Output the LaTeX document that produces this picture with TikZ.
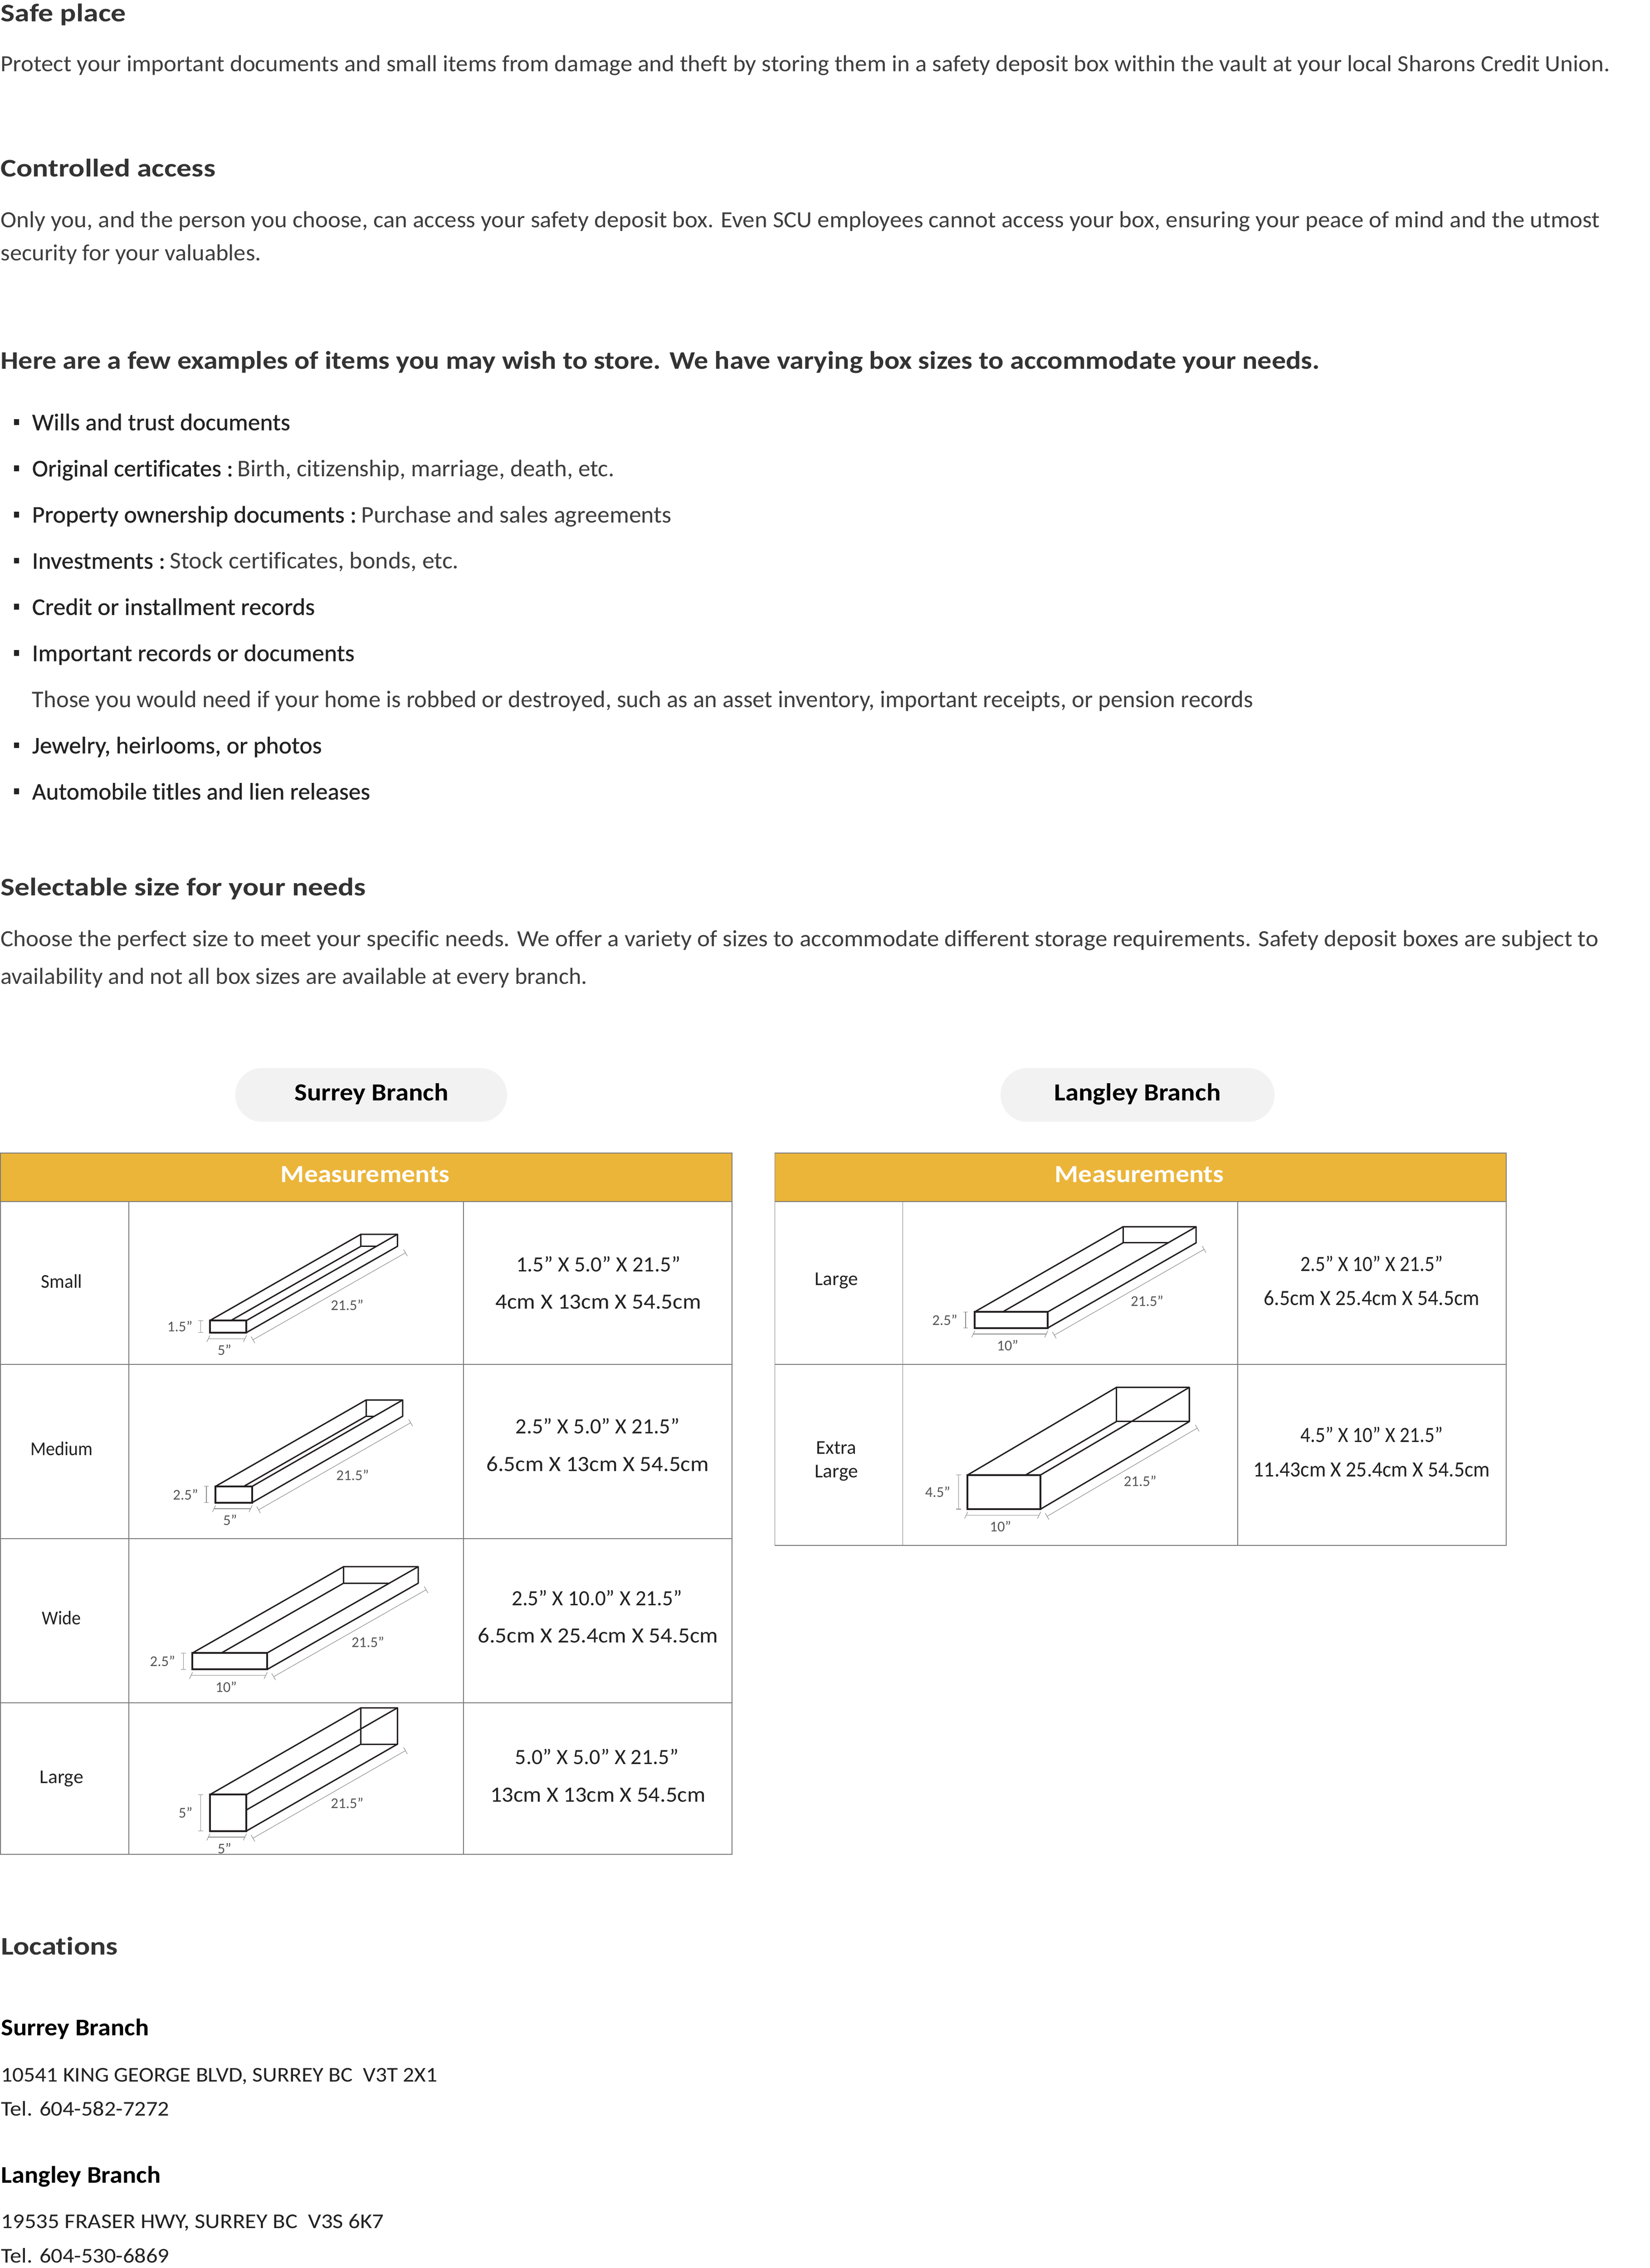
\documentclass[tikz,border=0pt]{standalone}
\usepackage{fontspec}
\usepackage{graphicx}
\setmainfont{Carlito}[Ligatures=NoCommon]
\newfontfamily\medf[FakeBold=0.6,Ligatures=NoCommon]{Carlito}
\usetikzlibrary{calc}
\definecolor{headc}{HTML}{333333}
\definecolor{bodyc}{HTML}{3E3E3E}
\definecolor{medc}{HTML}{222222}
\definecolor{hdrc}{HTML}{EBB53A}
\definecolor{tlinec}{HTML}{7A7A7A}
\definecolor{pillc}{HTML}{F2F2F2}
\definecolor{boxc}{HTML}{231F20}
\definecolor{dimc}{HTML}{8A8A8A}
\definecolor{dimtc}{HTML}{555555}
\newcommand\fw[2]{\resizebox{#1pt}{\height}{#2}}
\newcommand\hd{\fontsize{17.5}{21}\selectfont\bfseries}
\newcommand\bd{\fontsize{16}{19}\selectfont}
\newcommand\bl{\fontsize{16.5}{19}\selectfont}
\newcommand\md{\medf\fontsize{16.5}{19}\selectfont}
\tikzset{
  tx/.style={anchor=base west, inner sep=0pt, outer sep=0pt},
  tc/.style={anchor=base, inner sep=0pt, outer sep=0pt},
  tline/.style={draw=tlinec, line width=0.6pt},
  boxline/.style={draw=boxc, line width=0.95pt, line cap=round, line join=round},
  frontline/.style={draw=boxc, line width=1.25pt, line join=miter},
  dimline/.style={draw=dimc, line width=0.35pt},
  dimlab/.style={inner sep=0pt, text=dimtc, font=\fontsize{10.3}{12}\selectfont},
  cellc/.style={anchor=base, inner sep=0pt, text=medc}
}
% open tray: x0 y0 w h dx dy fullbottom
\newcommand\tray[7]{%
  \pgfmathsetmacro\trQ{-(#5)*(#4)/(#6)}%
  \pgfmathsetmacro\trQy{#2+#4+(#6)*(#3)/(#5)}%
  \draw[boxline] (#1,#2) -- ++(#5,#6) -- ++(#3,0) -- ++(0,#4);
  \draw[boxline] (#1+#3,#2) -- ++(#5,#6);
  \draw[boxline] (#1+#3,#2+#4) -- ++(#5,#6);
  \draw[boxline] (#1+#5,#2+#6) -- ++(0,#4);
  \ifdim\trQ pt<#3pt
    \draw[boxline] (#1+\trQ,#2) -- (#1+#5,#2+#4+#6);
  \else
    \draw[boxline] (#1+#3,\trQy) -- (#1+#5,#2+#4+#6);
  \fi
  \ifnum#7=1
    \draw[boxline] (#1+#5,#2+#4+#6) -- ++(#3,0);
  \else
    \draw[boxline] (#1+#5,#2+#4+#6) -- (#1+#3+#5-\trQ,#2+#4+#6);
  \fi
  \draw[frontline] (#1,#2) rectangle ++(#3,#4);
}
% dimensions: x0 y0 w h dx dy hlabel wlabel
\newcommand\dims[8]{%
  \draw[dimline] (#1-6.3,#2) -- (#1-6.3,#2+#4);
  \draw[dimline] (#1-8,#2) -- (#1-4.6,#2);
  \draw[dimline] (#1-8,#2+#4) -- (#1-4.6,#2+#4);
  \node[dimlab, anchor=east] at (#1-11.8,#2+#4/2) {#7};
  \draw[dimline] (#1-1,#2+#4+4.2) -- (#1+#3-1,#2+#4+4.2);
  \draw[dimline] (#1-2.1,#2+#4+6.5) -- (#1+0.1,#2+#4+1.9);
  \draw[dimline] (#1+#3-2.1,#2+#4+6.5) -- (#1+#3+0.1,#2+#4+1.9);
  \node[dimlab] at (#1+#3/2-2.5,#2+#4+12) {#8};
  \coordinate (dA) at (#1+#3+4.5,#2+#4+5);
  \coordinate (dB) at (#1+#3+#5+5.5,#2+#4+#6+4.5);
  \draw[dimline] (dA) -- (dB);
  \draw[dimline] ($(dA)!2.6pt!90:(dB)$) -- ($(dA)!2.6pt!-90:(dB)$);
  \draw[dimline] ($(dB)!2.6pt!90:(dA)$) -- ($(dB)!2.6pt!-90:(dA)$);
  \node[dimlab] at ($(dA)!0.5!(dB)+(12.4,6)$) {21.5”};
}
\begin{document}
\begin{tikzpicture}[x=1pt,y=-1pt]
\useasboundingbox (0,0) rectangle (1140,1567.2);
\fill[white] (0,0) rectangle (1140,1567.2);

% ---------- top text ----------
\node[tx,text=headc] (h1) at (0.5,15) {\hd\fw{86.6}{Safe place}};
\node[tx,text=bodyc] (p1) at (0.5,49.3) {\bd\fw{1112.3}{Protect your important documents and small items from damage and theft by storing them in a safety deposit box within the vault at your local Sharons Credit Union.}};
\node[tx,text=headc] (h2) at (0.5,122) {\hd\fw{148.5}{Controlled access}};
\node[tx,text=bodyc] (p2) at (0.5,157.2) {\bd\fw{1105.2}{Only you, and the person you choose, can access your safety deposit box. Even SCU employees cannot access your box, ensuring your peace of mind and the utmost}};
\node[tx,text=bodyc] (p3) at (0.5,180.1) {\bd\fw{180}{security for your valuables.}};
\node[tx,text=headc] (h3) at (0.5,254.9) {\hd\fw{911.7}{Here are a few examples of items you may wish to store. We have varying box sizes to accommodate your needs.}};

% ---------- bullets ----------
\foreach \k in {0,1,2,3,4,5,7,8}
  \fill[medc] (9.8,297.3+31.9*\k-7.6) rectangle ++(3.5,4);
\node[tx,text=medc] (b1) at (22.2,297.3) {\md\fw{178.4}{Wills and trust documents}};
\node[tx,text=bodyc] (b2) at (22.2,329.2) {\fw{402.3}{{\md\color{medc}Original certificates :} \bl Birth, citizenship, marriage, death, etc.}};
\node[tx,text=bodyc] (b3) at (22.2,361.1) {\fw{441.9}{{\md\color{medc}Property ownership documents :} \bl Purchase and sales agreements}};
\node[tx,text=bodyc] (b4) at (22.2,393.0) {\fw{294.8}{{\md\color{medc}Investments :} \bl Stock certificates, bonds, etc.}};
\node[tx,text=medc] (b5) at (22.2,424.9) {\md\fw{195.4}{Credit or installment records}};
\node[tx,text=medc] (b6) at (22.2,456.8) {\md\fw{222.8}{Important records or documents}};
\node[tx,text=bodyc] (b7) at (22.2,488.7) {\bl\fw{844}{Those you would need if your home is robbed or destroyed, such as an asset inventory, important receipts, or pension records}};
\node[tx,text=medc] (b8) at (22.2,520.6) {\md\fw{200.2}{Jewelry, heirlooms, or photos}};
\node[tx,text=medc] (b9) at (22.2,552.5) {\md\fw{233.6}{Automobile titles and lien releases}};

% ---------- selectable size ----------
\node[tx,text=headc] (h4) at (0.5,619) {\hd\fw{252.5}{Selectable size for your needs}};
\node[tx,text=bodyc] (p4) at (0.5,654) {\bd\fw{1104.1}{Choose the perfect size to meet your specific needs. We offer a variety of sizes to accommodate different storage requirements. Safety deposit boxes are subject to}};
\node[tx,text=bodyc] (p5) at (0.5,680) {\bd\fw{405.5}{availability and not all box sizes are available at every branch.}};

% ---------- branch pills ----------
\fill[pillc, rounded corners=18.5pt] (162.6,738) rectangle (350.4,775.2);
\fill[pillc, rounded corners=18.5pt] (691.5,738) rectangle (880.8,775.2);
\node[tc,text=black] (pill1) at (256.75,760.4) {\fontsize{17}{20}\selectfont\bfseries\fw{106.3}{Surrey Branch}};
\node[tc,text=black] (pill2) at (786.05,760.4) {\fontsize{17}{20}\selectfont\bfseries\fw{115.1}{Langley Branch}};

% ---------- Surrey table ----------
\fill[hdrc] (0,796.8) rectangle (506,830.2);
\draw[tline] (0.3,796.8) rectangle (506,1281.2);
\foreach \yy in {830.2,942.8,1063.1,1176.6} \draw[tline] (0.3,\yy) -- (506,\yy);
\draw[tline] (88.9,830.2) -- (88.9,1281.2);
\draw[tline] (320.2,830.2) -- (320.2,1281.2);
\node[tc,text=white] (m1) at (252.4,817) {\fontsize{17}{20}\selectfont\bfseries\fw{116.8}{Measurements}};

\node[cellc] (s1) at (42.6,889.9) {\fontsize{13.5}{16}\selectfont\fw{28.3}{Small}};
\node[cellc] (s2) at (42.6,1005.8) {\fontsize{13.5}{16}\selectfont\fw{43}{Medium}};
\node[cellc] (s3) at (42.6,1122.5) {\fontsize{13.5}{16}\selectfont\fw{27}{Wide}};
\node[cellc] (s4) at (42.6,1232.3) {\fontsize{13.5}{16}\selectfont\fw{30.1}{Large}};

\node[cellc] (s1a) at (413.5,878.6) {\fontsize{15}{18}\selectfont\fw{113.5}{1.5” X 5.0” X 21.5”}};
\node[cellc] (s1b) at (413.5,904.4) {\fontsize{15}{18}\selectfont\fw{142.1}{4cm X 13cm X 54.5cm}};
\node[cellc] (s2a) at (413,990.7) {\fontsize{15}{18}\selectfont\fw{113.5}{2.5” X 5.0” X 21.5”}};
\node[cellc] (s2b) at (413,1016.7) {\fontsize{15}{18}\selectfont\fw{153.8}{6.5cm X 13cm X 54.5cm}};
\node[cellc] (s3a) at (412.5,1109.4) {\fontsize{15}{18}\selectfont\fw{117.7}{2.5” X 10.0” X 21.5”}};
\node[cellc] (s3b) at (413.2,1135.1) {\fontsize{15}{18}\selectfont\fw{166.1}{6.5cm X 25.4cm X 54.5cm}};
\node[cellc] (s4a) at (412.5,1219.0) {\fontsize{15}{18}\selectfont\fw{112.9}{5.0” X 5.0” X 21.5”}};
\node[cellc] (s4b) at (413.2,1245.2) {\fontsize{15}{18}\selectfont\fw{148.5}{13cm X 13cm X 54.5cm}};

\tray{145.0}{912.5}{25.3}{8.3}{104.4}{-59.6}{0}
\dims{145.0}{912.5}{25.3}{8.3}{104.4}{-59.6}{1.5”}{5”}
\tray{148.9}{1027.1}{25.3}{11.2}{104.1}{-59.7}{0}
\dims{148.9}{1027.1}{25.3}{11.2}{104.1}{-59.7}{2.5”}{5”}
\tray{133.0}{1142.2}{51.6}{11.4}{104.4}{-59.6}{0}
\dims{133.0}{1142.2}{51.6}{11.4}{104.4}{-59.6}{2.5”}{10”}
\tray{145.0}{1240.1}{25.3}{25.1}{104.4}{-60.0}{1}
\dims{145.0}{1240.1}{25.3}{25.1}{104.4}{-60.0}{5”}{5”}

% ---------- Langley table ----------
\fill[hdrc] (535.5,796.8) rectangle (1041,830.2);
\draw[tline] (535.5,796.8) rectangle (1041,1067.8);
\foreach \yy in {830.2,942.8} \draw[tline] (535.5,\yy) -- (1041,\yy);
\draw[tline] (623.9,830.2) -- (623.9,1067.8);
\draw[tline] (855.4,830.2) -- (855.4,1067.8);
\node[tc,text=white] (m2) at (787.4,817) {\fontsize{17}{20}\selectfont\bfseries\fw{116.8}{Measurements}};

\node[cellc] (l1) at (578,888) {\fontsize{13.5}{16}\selectfont\fw{29.7}{Large}};
\node[cellc] (l2) at (578,1004.8) {\fontsize{13.5}{16}\selectfont\fw{27.8}{Extra}};
\node[cellc] (l3) at (578,1021) {\fontsize{13.5}{16}\selectfont\fw{29.8}{Large}};
\node[cellc] (l1a) at (948,878.5) {\fontsize{15}{18}\selectfont\fw{98.2}{2.5” X 10” X 21.5”}};
\node[cellc] (l1b) at (948,901.8) {\fontsize{15}{18}\selectfont\fw{149}{6.5cm X 25.4cm X 54.5cm}};
\node[cellc] (l2a) at (948,996.5) {\fontsize{15}{18}\selectfont\fw{98.2}{4.5” X 10” X 21.5”}};
\node[cellc] (l2b) at (948,1020.3) {\fontsize{15}{18}\selectfont\fw{163.4}{11.43cm X 25.4cm X 54.5cm}};

\tray{673.6}{906.5}{50.5}{11.1}{102.5}{-58.8}{0}
\dims{673.6}{906.5}{50.5}{11.1}{102.5}{-58.8}{2.5”}{10”}
\tray{668.7}{1019.2}{50.4}{23.6}{102.8}{-60.5}{1}
\dims{668.7}{1019.2}{50.4}{23.6}{102.8}{-60.5}{4.5”}{10”}

% ---------- locations ----------
\node[tx,text=headc] (h5) at (0.8,1350.7) {\hd\fw{80.7}{Locations}};
\node[tx,text=black] (c1) at (0.8,1406.4) {\fontsize{16.5}{19}\selectfont\bfseries\fw{102.2}{Surrey Branch}};
\node[tx,text=medc] (c2) at (0.8,1438.5) {\fontsize{14.5}{17}\selectfont\fw{301.5}{10541 KING GEORGE BLVD, SURREY BC\ \ V3T 2X1}};
\node[tx,text=medc] (c3) at (0.8,1461.9) {\fontsize{14.5}{17}\selectfont\fw{116.2}{Tel. 604-582-7272}};
\node[tx,text=black] (c4) at (0.8,1508.4) {\fontsize{16.5}{19}\selectfont\bfseries\fw{110.2}{Langley Branch}};
\node[tx,text=medc] (c5) at (0.8,1539.9) {\fontsize{14.5}{17}\selectfont\fw{264.5}{19535 FRASER HWY, SURREY BC\ \ V3S 6K7}};
\node[tx,text=medc] (c6) at (0.8,1563.6) {\fontsize{14.5}{17}\selectfont\fw{116.2}{Tel. 604-530-6869}};
\end{tikzpicture}
\end{document}
